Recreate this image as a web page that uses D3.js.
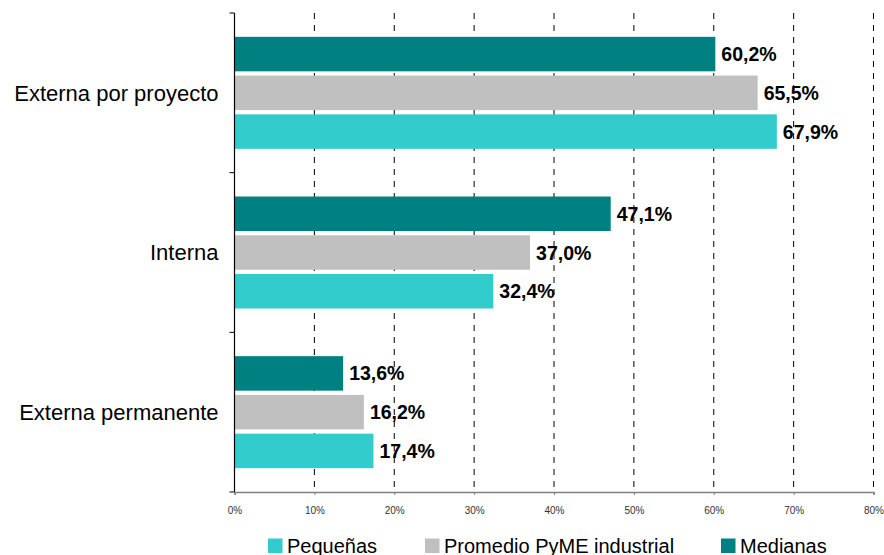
<!DOCTYPE html>
<meta charset="utf-8">
<style>
body { margin: 0; background: #fff; }
svg text { font-family: "Liberation Sans", Arial, sans-serif; }
.grid line { stroke: #000; stroke-width: 1; stroke-dasharray: 6,6; }
.val { font-weight: bold; font-size: 19.5px; fill: #000; }
.cat { font-size: 22px; fill: #000; }
.legend text { font-size: 20px; fill: #000; }
</style>
<body>
<script src="https://d3js.org/d3.v7.min.js"></script>
<script>
// data
var categories = ["Externa por proyecto", "Interna", "Externa permanente"];
var series = ["Medianas", "Promedio PyME industrial", "Pequeñas"];
var medianas = [60.2, 47.1, 13.6];
var promedio = [65.5, 37.0, 16.2];
var pequenas = [67.9, 32.4, 17.4];
var xTicks = [0, 10, 20, 30, 40, 50, 60, 70, 80];
var legendOrder = ["Pequeñas", "Promedio PyME industrial", "Medianas"];

var colors = {"Medianas": "#008080", "Promedio PyME industrial": "#C0C0C0", "Pequeñas": "#33CCCC"};
var values = {"Medianas": medianas, "Promedio PyME industrial": promedio, "Pequeñas": pequenas};

var margin = {top: 13, right: 10, bottom: 63, left: 234.5},
    width = 873.5 - margin.left,
    height = 492 - margin.top;

var svg = d3.select("body").append("svg")
    .attr("width", 884)
    .attr("height", 555);

var g = svg.append("g")
    .attr("transform", "translate(" + margin.left + "," + margin.top + ")");

var x = d3.scaleLinear().domain([0, 80]).range([0, width]);
var y = d3.scaleBand().domain(categories).range([0, height]);
var inner = d3.scaleBand().domain(series).range([0, 112]).paddingInner(0.11);

// dashed grid
g.append("g").attr("class", "grid")
  .selectAll("line")
  .data(xTicks.slice(1))
  .enter().append("line")
    .attr("x1", function(d) { return x(d); })
    .attr("x2", function(d) { return x(d); })
    .attr("y1", 0)
    .attr("y2", height);

// bars
categories.forEach(function(c, i) {
  var off = y(c) + (y.bandwidth() - 112) / 2;
  series.forEach(function(s) {
    var v = values[s][i];
    g.append("rect")
      .attr("x", 0)
      .attr("y", off + inner(s))
      .attr("width", x(v))
      .attr("height", inner.bandwidth())
      .attr("fill", colors[s]);
    g.append("text")
      .attr("class", "val")
      .attr("x", x(v) + 6)
      .attr("y", off + inner(s) + inner.bandwidth() / 2)
      .attr("dy", "0.36em")
      .text(v.toFixed(1).replace(".", ",") + "%");
  });
});

// y axis (ticks on band boundaries)
var yAxis = g.append("g");
yAxis.append("line").attr("x1", 0).attr("x2", 0).attr("y1", 0).attr("y2", height)
  .attr("stroke", "#000").attr("stroke-width", 1.2);
yAxis.selectAll(".yt")
  .data(categories.map(function(c) { return y(c); }).concat([height]))
  .enter().append("line")
    .attr("x1", -5).attr("x2", 0)
    .attr("y1", function(d) { return d; })
    .attr("y2", function(d) { return d; })
    .attr("stroke", "#000");
g.selectAll(".cat")
  .data(categories)
  .enter().append("text")
    .attr("class", "cat")
    .attr("x", -16)
    .attr("y", function(d) { return y(d) + y.bandwidth() / 2; })
    .attr("dy", "0.35em")
    .attr("text-anchor", "end")
    .text(function(d) { return d; });

// x axis
var xAxis = g.append("g")
    .attr("transform", "translate(0," + height + ")")
    .call(d3.axisBottom(x).tickValues(xTicks).tickSize(3).tickPadding(12)
      .tickFormat(function(d) { return d + "%"; }));
xAxis.select(".domain").attr("stroke", "#808080").attr("stroke-width", 1.5);
xAxis.selectAll(".tick line").attr("stroke", "#808080");
xAxis.selectAll("text").attr("font-size", "10px").attr("fill", "#333")
  .attr("font-family", "Liberation Sans, Arial, sans-serif");

// legend
var legendX = [268, 425, 721];
var lg = svg.append("g").attr("class", "legend");
legendOrder.forEach(function(s, i) {
  lg.append("rect")
    .attr("x", legendX[i]).attr("y", 538.5)
    .attr("width", 14.5).attr("height", 14.5)
    .attr("fill", colors[s]);
  lg.append("text")
    .attr("x", legendX[i] + 19).attr("y", 545.5)
    .attr("dy", "0.35em")
    .text(s);
});
</script>
</body>
